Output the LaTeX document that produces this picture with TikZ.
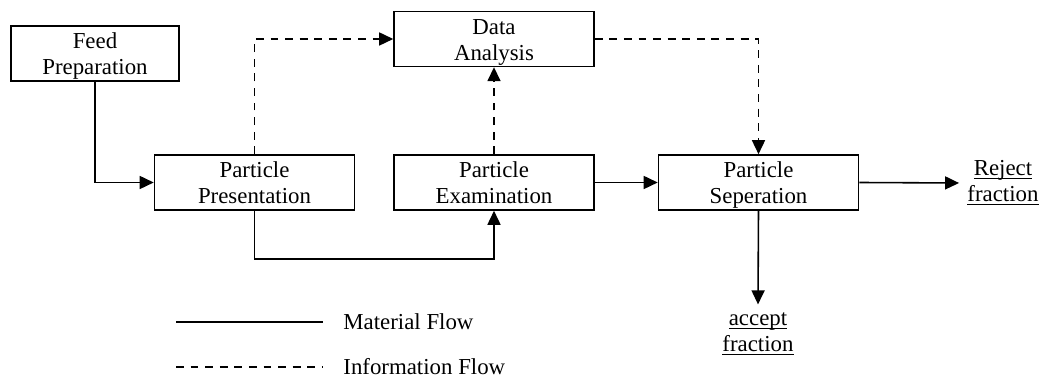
\documentclass[tikz,border=0pt]{standalone}
\usepackage{fontspec}
\setmainfont{Liberation Serif}
\usetikzlibrary{arrows.meta,positioning}

\newcommand{\ulword}[1]{\underline{\raisebox{0pt}[\height][0pt]{#1}}}

\begin{document}
\begin{tikzpicture}[-,
					>={Triangle[length=0.28cm,width=0.26cm]},
					line width=0.9pt,
					node font=\fontsize{13}{14.8}\selectfont,
					process/.style={rectangle,draw,align=center,
					  minimum width=4cm,minimum height=1.1cm,inner sep=0pt,
					  execute at begin node=\rule{0pt}{27.8pt},
					  execute at end node=\rule[-3.4pt]{0pt}{3.4pt}},
					outlet/.style={align=center},
					matflow/.style={->},
					infoflow/.style={->,dash pattern=on 4.5pt off 3.8pt}]

  \useasboundingbox (0,0) rectangle (20.84,7.6);

  \node[process,minimum width=3.36cm] (feed) at (1.9,6.53) {Feed\\Preparation};
  \node[process] (present) at (5.09,3.95) {Particle\\Presentation};
  \node[process] (exam) at (9.88,3.95) {Particle\\Examination};
  \node[process,minimum height=1.08cm] (data) at (9.88,6.82) {Data\\Analysis};
  \node[process] (sep) at (15.17,3.95) {Particle\\Seperation};
  \node[outlet] (reject) at (20.06,3.94) {\ulword{Reject}\\\ulword{fraction}};
  \node[outlet] (accept) at (15.16,0.92) {\ulword{accept}\\\ulword{fraction}};

  % material flow
  \draw[matflow] (feed.south) |- (present.west);
  \draw[matflow] (present.south) |- ([yshift=-0.96cm]exam.south) -- (exam.south);
  \draw[matflow] (exam.east) -- (sep.west);
  \draw[matflow] (sep.east) -- (reject.west);
  \draw[matflow] (sep.south) -- (accept.north);

  % information flow
  \draw[infoflow] (present.north) |- (data.west);
  \draw[infoflow] (exam.north) -- (data.south);
  \draw[infoflow] (data.east) -| (sep.north);

  % legend
  \coordinate (mat a) at (3.52,1.16);
  \coordinate (mat b) at (6.46,1.16);
  \coordinate (info a) at (3.52,0.26);
  \coordinate (info b) at (6.46,0.26);
  \draw (mat a) -- (mat b);
  \draw[dash pattern=on 4.5pt off 3.8pt] (info a) -- (info b);
  \node[anchor=west] (matlabel) at (6.7,1.16) {Material Flow};
  \node[anchor=west] (infolabel) at (6.7,0.26) {Information Flow};
\end{tikzpicture}
\end{document}
